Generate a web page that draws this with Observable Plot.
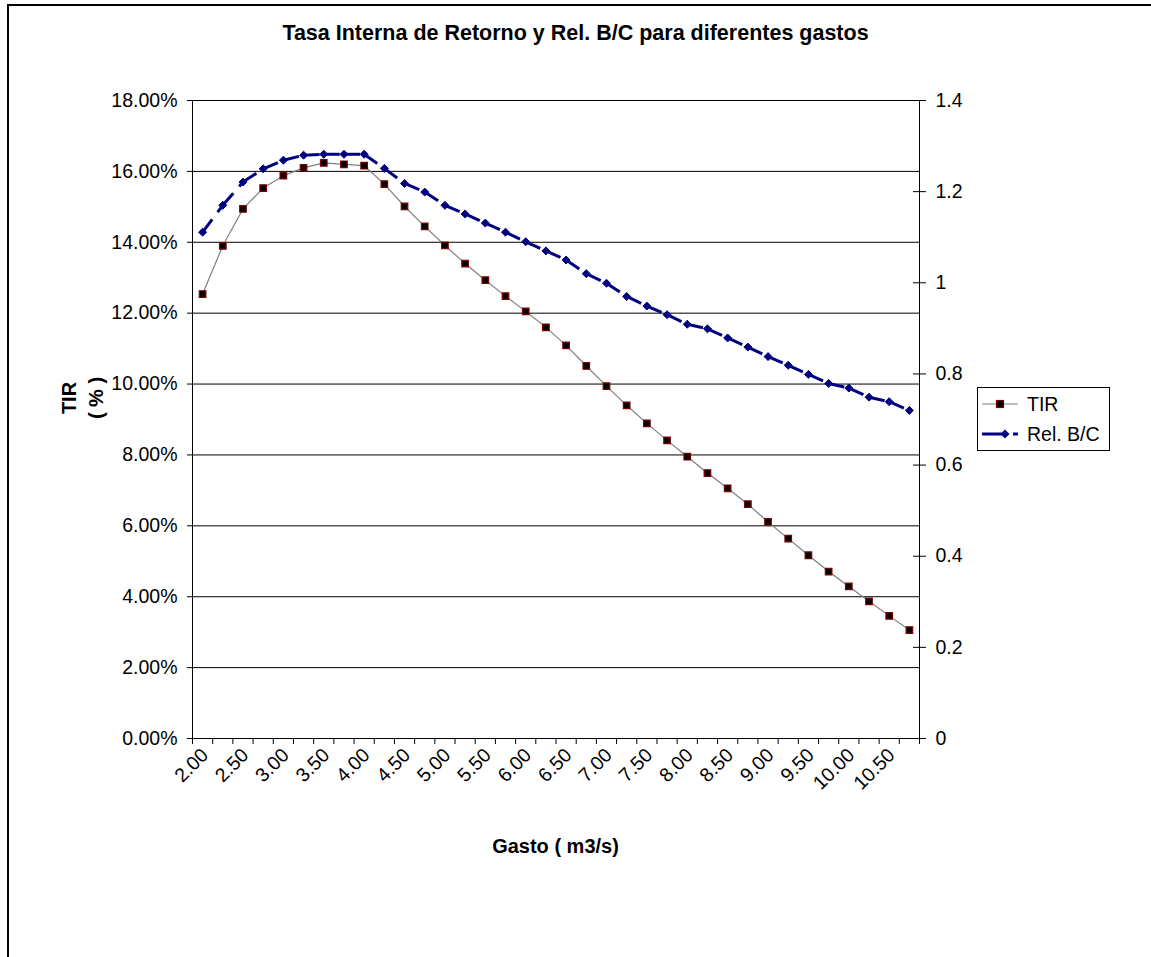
<!DOCTYPE html>
<html>
<head>
<meta charset="utf-8">
<script src="https://cdn.jsdelivr.net/npm/d3@7"></script>
<script src="https://cdn.jsdelivr.net/npm/@observablehq/plot@0.6"></script>
<style>
  html, body { margin: 0; padding: 0; background: #fff; }
  #wrap { position: relative; width: 1151px; height: 957px; overflow: hidden; font-family: "Liberation Sans", Arial, sans-serif; }
  #frame { position: absolute; left: 7px; top: 4px; width: 1300px; height: 1100px; border-left: 2px solid #000; border-top: 2px solid #000; }
  #title { position: absolute; left: 0; top: 20px; width: 1151px; text-align: center; font-weight: bold; font-size: 21.5px; line-height: 26px; color: #000; }
  #ytitle { position: absolute; left: 34px; top: 370px; width: 100px; height: 56px; text-align: center; font-weight: bold; font-size: 20px; line-height: 27px; transform: rotate(-90deg); transform-origin: 50% 50%; }
  #xtitle { position: absolute; left: 192px; top: 834px; width: 727px; text-align: center; font-weight: bold; font-size: 20px; line-height: 24px; }
  #legend { position: absolute; left: 977px; top: 387px; width: 133px; height: 64px; border: 1px solid #000; background: #fff; box-sizing: border-box; }
  #legend svg { position: absolute; left: 0; top: 0; }
  #chart { position: absolute; left: 0; top: 0; }
</style>
</head>
<body>
<div id="wrap">
  <div id="frame"></div>
  <div id="chart"></div>
  <div id="title">Tasa Interna de Retorno y Rel. B/C para diferentes gastos</div>
  <div id="ytitle">TIR<br>( % )</div>
  <div id="xtitle">Gasto ( m3/s)</div>
  <div id="legend"></div>
</div>
<script>
// ---- Data ----
const gasto = ["2.00","2.25","2.50","2.75","3.00","3.25","3.50","3.75","4.00","4.25",
               "4.50","4.75","5.00","5.25","5.50","5.75","6.00","6.25","6.50","6.75",
               "7.00","7.25","7.50","7.75","8.00","8.25","8.50","8.75","9.00","9.25",
               "9.50","9.75","10.00","10.25","10.50","10.75"];
// TIR in percent
const tir = [12.54, 13.90, 14.94, 15.53, 15.88, 16.10, 16.24, 16.20, 16.16, 15.64,
             15.01, 14.45, 13.91, 13.40, 12.93, 12.48, 12.05, 11.60, 11.09, 10.51,
              9.94,  9.40,  8.89,  8.41,  7.95,  7.49,  7.06,  6.61,  6.11,  5.64,
              5.17,  4.71,  4.29,  3.87,  3.46,  3.06];
// Relación Beneficio / Costo
const relBC = [1.111, 1.170, 1.221, 1.250, 1.269, 1.280, 1.282, 1.282, 1.282, 1.251,
               1.218, 1.199, 1.170, 1.151, 1.131, 1.111, 1.090, 1.070, 1.050, 1.020,
               0.999, 0.970, 0.949, 0.930, 0.909, 0.899, 0.879, 0.859, 0.838, 0.819,
               0.799, 0.779, 0.769, 0.749, 0.739, 0.720];
const leftTicks = [0, 2, 4, 6, 8, 10, 12, 14, 16, 18];      // %
const rightTicks = [0, 0.2, 0.4, 0.6, 0.8, 1.0, 1.2, 1.4];   // B/C
const seriesNames = ["TIR", "Rel. B/C"];

// ---- derived helpers ----
const leftMax = 18, rightMax = 1.4;
const toLeft = v => v * leftMax / rightMax;   // map B/C onto the left (percent) scale
const idx = gasto.map((_, i) => i);
const labelIdx = idx.filter(i => i % 2 === 0);
const boundaries = idx.map(i => i - 0.5).concat([gasto.length - 0.5]);
const segs = idx.slice(0, -1).map(i => ({i}));

const font = "'Liberation Sans', Arial, sans-serif";

const chart = Plot.plot({
  width: 1151,
  height: 957,
  marginLeft: 192,
  marginRight: 232,
  marginTop: 100,
  marginBottom: 219,
  style: {fontFamily: font, fontSize: "19.5px", color: "#000", background: "transparent", overflow: "visible"},
  x: {type: "linear", domain: [-0.5, gasto.length - 0.5], axis: null},
  y: {type: "linear", domain: [0, leftMax], axis: null},
  marks: [
    // gridlines
    Plot.ruleY(leftTicks.filter(d => d > 0), {stroke: "#000", strokeWidth: 1}),
    // axis lines
    Plot.ruleX([-0.5], {stroke: "#000", strokeWidth: 1}),
    Plot.ruleX([gasto.length - 0.5], {stroke: "#000", strokeWidth: 1}),
    Plot.ruleY([0], {stroke: "#000", strokeWidth: 1}),
    // left axis
    Plot.axisY({anchor: "left", ticks: leftTicks, tickSize: 5, tickPadding: 10,
                tickFormat: d => d.toFixed(2) + "%", label: null, fontSize: "19.5px"}),
    // right axis (B/C)
    Plot.axisY({anchor: "right", ticks: rightTicks.map(toLeft), tickSize: 6, tickPadding: 10,
                tickFormat: d => String(+(d * rightMax / leftMax).toFixed(2)), label: null, fontSize: "19.5px"}),
    Plot.ruleY(rightTicks.map(toLeft), {x1: gasto.length - 0.5 - 0.3, x2: gasto.length - 0.5, stroke: "#000"}),
    // x axis tick marks (between categories)
    Plot.axisX({anchor: "bottom", ticks: boundaries, tickSize: 6, tickFormat: () => "", label: null}),
    // x tick labels, rotated
    Plot.text(labelIdx, {x: d => d, text: d => gasto[d], frameAnchor: "bottom", rotate: -45,
                         textAnchor: "end", lineAnchor: "top", dx: -3, dy: 8, fontSize: 19.5}),
    // TIR series
    Plot.line(idx, {x: d => d, y: d => tir[d], stroke: "#808080", strokeWidth: 1.2}),
    Plot.dot(idx, {x: d => d, y: d => tir[d], symbol: "square", r: 3.7, fill: "#000",
                   stroke: "#800000", strokeWidth: 1.2}),
    // Rel. B/C series — dashed, pattern restarting at each segment
    Plot.link(segs, {x1: d => d.i, y1: d => toLeft(relBC[d.i]), x2: d => d.i + 1, y2: d => toLeft(relBC[d.i + 1]),
                     stroke: "#000080", strokeWidth: 3, strokeDasharray: "16,9"}),
    Plot.dot(idx, {x: d => d, y: d => toLeft(relBC[d]), symbol: "diamond2", r: 3.6,
                   fill: "#000080", stroke: "#000080", strokeWidth: 1})
  ]
});
document.getElementById("chart").appendChild(chart);

// ---- legend ----
const lg = document.getElementById("legend");
lg.innerHTML = `
<svg width="133" height="64" style="font-family:${font};font-size:19.5px">
  <line x1="4" y1="16" x2="40" y2="16" stroke="#808080" stroke-width="1.2"/>
  <rect x="18.5" y="12.5" width="7" height="7" fill="#000" stroke="#800000" stroke-width="1.2"/>
  <text x="49" y="16" dy="0.35em">${seriesNames[0]}</text>
  <line x1="4" y1="46" x2="27" y2="46" stroke="#000080" stroke-width="3"/>
  <line x1="35" y1="46" x2="40" y2="46" stroke="#000080" stroke-width="3"/>
  <path d="M27,41.5L31.5,46L27,50.5L22.5,46Z" fill="#000080"/>
  <text x="49" y="46" dy="0.35em">${seriesNames[1]}</text>
</svg>`;
</script>
</body>
</html>
